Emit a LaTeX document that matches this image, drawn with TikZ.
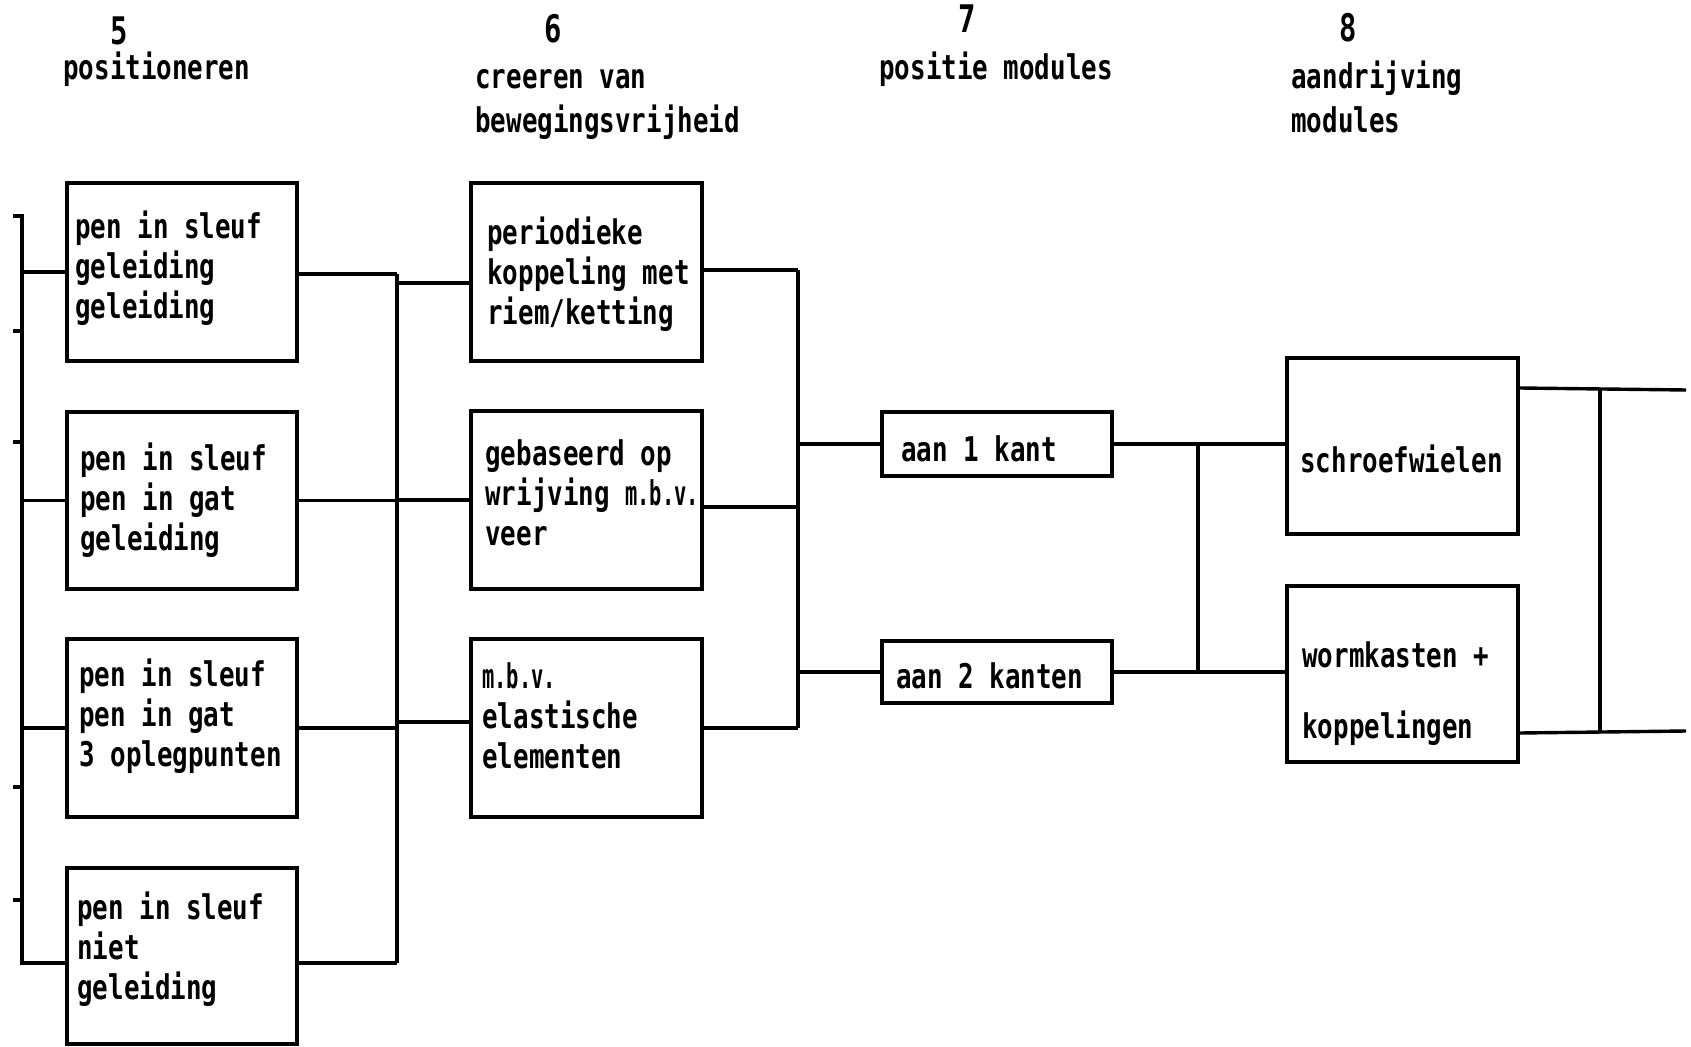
\documentclass[tikz,border=0pt]{standalone}
\usepackage{fontspec}
\usetikzlibrary{calc}
\newfontfamily\plotfont{DejaVu Sans Mono}[FakeStretch=0.76]
\newfontfamily\plotnarrow{DejaVu Sans Mono}[FakeStretch=0.6]
\newcommand\abbr[1]{{\plotnarrow\bfseries #1}}

\tikzset{
  box/.style={draw, line width=2pt, inner sep=0pt},
  wire/.style={line width=1.7pt},
  boxtext/.style={anchor=north west, inner sep=0pt, align=left,
    font=\plotfont\bfseries\fontsize{17}{20}\selectfont},
  headtext/.style={inner sep=0pt, align=left,
    font=\plotfont\bfseries\fontsize{17}{22}\selectfont},
  headnum/.style={anchor=base, inner sep=0pt,
    font=\plotfont\bfseries\fontsize{19}{22}\selectfont}
}

\begin{document}
\begin{tikzpicture}[x=0.5pt, y=-0.5pt]
\useasboundingbox (0,0) rectangle (1691,1047);

% column headings
\node[headnum] (n5) at (119,45) {5};
\node[headtext, anchor=base west] (h5) at (63,80) {positioneren};
\node[headnum] (n6) at (553,43) {6};
\node[headtext, anchor=north west] (h6) at (475,57) {\strut creeren van\\bewegingsvrijheid};
\node[headnum] (n7) at (967,33) {7};
\node[headtext, anchor=base west] (h7) at (879,80) {positie modules};
\node[headnum] (n8) at (1348,42) {8};
\node[headtext, anchor=north west] (h8) at (1291,57) {\strut aandrijving\\modules};

% column 5: positioning
\node[box, minimum width=115pt, minimum height=89pt] (p1) at (182,272) {};
\node[box, minimum width=115pt, minimum height=88.5pt] (p2) at (182,500.5) {};
\node[box, minimum width=115pt, minimum height=89pt] (p3) at (182,728) {};
\node[box, minimum width=115pt, minimum height=88pt] (p4) at (182,956) {};
\node[boxtext] (tp1) at (75,210) {\strut pen in sleuf\\geleiding\\geleiding};
\node[boxtext] (tp2) at (80,442) {\strut pen in sleuf\\pen in gat\\geleiding};
\node[boxtext] (tp3) at (79,658) {\strut pen in sleuf\\pen in gat\\3 oplegpunten};
\node[boxtext] (tp4) at (77,891) {\strut pen in sleuf\\niet\\geleiding};

% column 6: freedom of movement
\node[box, minimum width=115.5pt, minimum height=89pt] (q1) at (586.5,272) {};
\node[box, minimum width=115.5pt, minimum height=89pt] (q2) at (586.5,500) {};
\node[box, minimum width=115.5pt, minimum height=89pt] (q3) at (586.5,728) {};
\node[boxtext] (tq1) at (487,216) {\strut periodieke\\koppeling met\\riem/ketting};
\node[boxtext] (tq2) at (485,437) {\strut gebaseerd op\\wrijving \abbr{m.b.v.}\\veer};
\node[boxtext] (tq3) at (482,660) {\strut \abbr{m.b.v.}\\elastische\\elementen};

% column 7: module position
\node[box, minimum width=115pt, minimum height=32pt] (a1) at (997,444) {};
\node[box, minimum width=115pt, minimum height=31pt] (a2) at (997,672) {};
\node[boxtext] (ta1) at (901,433) {\strut aan 1 kant};
\node[boxtext] (ta2) at (896,660) {\strut aan 2 kanten};

% column 8: module drive
\node[box, minimum width=115.5pt, minimum height=88pt] (s) at (1402.5,446) {};
\node[box, minimum width=115.5pt, minimum height=88pt] (w) at (1402.5,674) {};
\node[boxtext] (ts) at (1300,444) {\strut schroefwielen};
\node[boxtext] (tw) at (1302,639) {\strut wormkasten +\\[15.5pt]koppelingen};

% left bus with ticks
\coordinate (L0) at (13,216);
\coordinate (Ltop) at (22,216);
\coordinate (Lbot) at (22,963);
\draw[wire] (L0) -- (Ltop) -- (Lbot) -- (Lbot -| p4.west);
\foreach \yy in {331,442,787,900} \draw[wire] (13,\yy) -- (22,\yy);
\draw[wire] (p1.west) -- (p1.west -| Ltop);
\draw[wire] (p2.west) -- (p2.west -| Ltop);
\draw[wire] (p3.west) -- (p3.west -| Ltop);

% bus between columns 5 and 6
\coordinate (B) at (397,0);
\coordinate (p1e) at ($(p1.east)+(0,2)$);
\coordinate (p4e) at ($(p4.east)+(0,7)$);
\draw[wire] (p1e) -- (p1e -| B);
\draw[wire] (p2.east) -- (p2.east -| B);
\draw[wire] (p3.east) -- (p3.east -| B);
\draw[wire] (p4e) -- (p4e -| B);
\draw[wire] (p1e -| B) -- (p4e -| B);
\coordinate (q1w) at ($(q1.west)+(0,11)$);
\coordinate (q3w) at ($(q3.west)+(0,-6)$);
\draw[wire] (q1w -| B) -- (q1w);
\draw[wire] (q2.west -| B) -- (q2.west);
\draw[wire] (q3w -| B) -- (q3w);

% bus between columns 6 and 7
\coordinate (C) at (798,0);
\coordinate (q1e) at ($(q1.east)+(0,-2)$);
\coordinate (q2e) at ($(q2.east)+(0,7)$);
\draw[wire] (q1e) -- (q1e -| C);
\draw[wire] (q2e) -- (q2e -| C);
\draw[wire] (q3.east) -- (q3.east -| C);
\draw[wire] (q1e -| C) -- (q3.east -| C);
\draw[wire] (a1.west -| C) -- (a1.west);
\draw[wire] (a2.west -| C) -- (a2.west);

% links between columns 7 and 8
\coordinate (D) at (1198,0);
\draw[wire] (a1.east) -- (a1.east -| s.west);
\draw[wire] (a2.east) -- (a2.east -| w.west);
\draw[wire] (a1.east -| D) -- (a2.east -| D);

% output bus
\coordinate (so) at ($(s.north east)+(0,32)$);
\coordinate (wo) at ($(w.south east)+(0,-31)$);
\coordinate (R1) at (1686,390);
\coordinate (R2) at (1686,731);
\coordinate (E) at (1600,0);
\draw[wire] (so) -- (R1);
\draw[wire] (wo) -- (R2);
\draw[wire] (so -| E) -- (wo -| E);
\end{tikzpicture}
\end{document}
